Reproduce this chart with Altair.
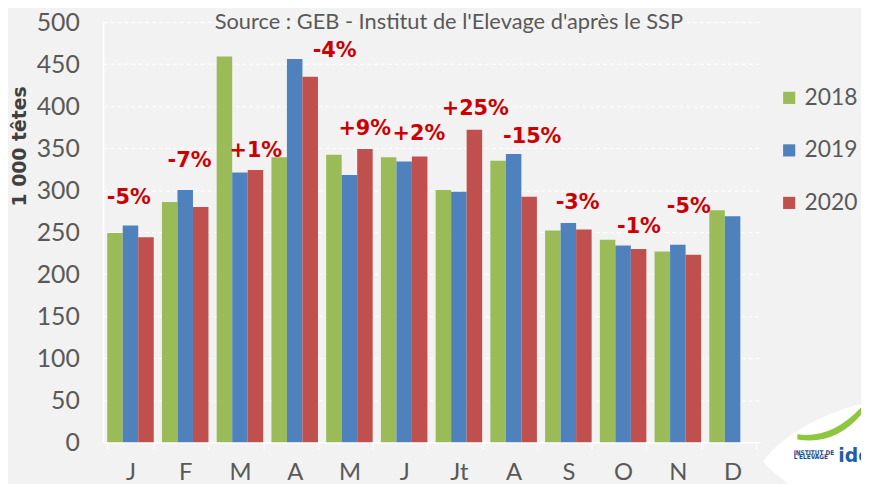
import altair as alt
import pandas as pd

months_short = ["J", "F", "M", "A", "M", "J", "Jt", "A", "S", "O", "N", "D"]
years = ["2018", "2019", "2020"]
v2018 = [249, 286, 459, 339, 342, 339, 300, 335, 252, 241, 227, 276]
v2019 = [258, 300, 321, 456, 318, 334, 298, 343, 261, 234, 235, 269]
v2020 = [244, 280, 324, 435, 349, 340, 372, 292, 253, 230, 223, None]

pct_labels = ["-5%", "-7%", "+1%", "-4%", "+9%", "+2%", "+25%", "-15%", "-3%", "-1%", "-5%"]
pct_y = [290, 335, 347, 465, 373, 367, 397, 363, 285, 256, 280]
pct_x = [0.47, 0.58, 0.79, 1.23, 0.78, 0.77, 0.80, 0.84, 0.67, 0.79, 0.70]

source_title = "Source : GEB - Institut de l'Elevage d'après le SSP"
logo_small = ["INSTITUT DE", "L'ELEVAGE"]
logo_big = "idel"

colors = ["#9bbb59", "#4f81bd", "#c0504d"]
gray = "#595959"

rows = []
for i in range(len(months_short)):
    for y, vals in zip(years, [v2018, v2019, v2020]):
        if vals[i] is not None:
            rows.append({"mi": i, "year": y, "value": vals[i]})
bars_df = pd.DataFrame(rows)

lab_df = pd.DataFrame({
    "pos": [i + f for i, f in enumerate(pct_x)],
    "y": pct_y,
    "label": pct_labels,
})

label_expr = "[" + ",".join("'%s'" % m for m in months_short) + "][datum.value]"

bars = alt.Chart(bars_df).mark_bar().encode(
    x=alt.X("mi:O", scale=alt.Scale(paddingInner=0.15, paddingOuter=0.075),
            axis=alt.Axis(title=None, labelExpr=label_expr, labelAngle=0,
                          labelFont="Lato", labelFontSize=24, labelColor=gray,
                          labelPadding=12, tickBand="extent", tickColor="white",
                          tickSize=7, domainColor="white", domainWidth=1.5)),
    xOffset=alt.XOffset("year:N", sort=years),
    y=alt.Y("value:Q", scale=alt.Scale(domain=[0, 500]),
            axis=alt.Axis(values=list(range(0, 501, 50)), title="1 000 têtes",
                          labelFont="Lato", labelFontSize=25, labelColor=gray,
                          labelPadding=24, ticks=False,
                          grid=True, gridColor="white", gridDash=[4, 3], gridWidth=1,
                          domainColor="white", domainWidth=1.5)),
    color=alt.Color("year:N", sort=years,
                    scale=alt.Scale(domain=years, range=colors),
                    legend=alt.Legend(title=None, orient="none", legendX=681, legendY=65,
                                      symbolType="square", symbolSize=150,
                                      symbolStrokeWidth=0, labelFont="Lato",
                                      labelFontSize=23, labelColor=gray,
                                      rowPadding=29, labelOffset=4, padding=0)),
)

texts = alt.Chart(lab_df).mark_text(
    font="DejaVu Sans", fontSize=21, fontWeight="bold", color="#cc0000",
    baseline="middle", align="center"
).encode(
    x=alt.X("pos:Q", scale=alt.Scale(domain=[0, 12]), axis=None),
    y=alt.Y("y:Q", scale=alt.Scale(domain=[0, 500]), axis=None),
    text="label:N",
)

title_mark = alt.Chart(pd.DataFrame({"t": [source_title]})).mark_text(
    font="Lato", fontSize=22, color=gray, baseline="alphabetic", align="center"
).encode(x=alt.value(349), y=alt.value(7), text="t:N")

logo_bg = alt.Chart(pd.DataFrame({"k": [1]})).mark_point(
    shape="M -1 0.05 C -0.6 -0.45 0.2 -0.62 1 -0.6 L 1 0.8 C 0.2 0.75 -0.6 0.5 -1 0.05 Z",
    filled=True, color="white", opacity=1, size=46000, strokeWidth=0
).encode(x=alt.value(773), y=alt.value(438))

logo_swoosh = alt.Chart(pd.DataFrame({"k": [1]})).mark_point(
    shape="M -0.95 0.4 Q 0.1 0.55 1 -0.5 L 1 -0.3 Q 0.2 0.75 -0.95 0.55 Z",
    filled=True, color="#8dc63f", opacity=1, size=4900, strokeWidth=0
).encode(x=alt.value(734), y=alt.value(402))

logo_small_mark = alt.Chart(pd.DataFrame({"t": logo_small, "r": [0, 1]})).mark_text(
    font="Liberation Sans Narrow, DejaVu Sans Condensed, Liberation Sans", fontSize=6.5,
    fontWeight="bold", color="#1f4e8c", baseline="middle", align="left"
).encode(x=alt.value(697),
         y=alt.Y("r:O", scale=alt.Scale(domain=[0, 1], range=[432.5, 441.5]), axis=None),
         text="t:N")

logo_big_mark = alt.Chart(pd.DataFrame({"t": [logo_big]})).mark_text(
    font="DejaVu Sans", fontSize=19, fontWeight="bold", color="#1f5fa8",
    baseline="middle", align="left"
).encode(x=alt.value(742), y=alt.value(438), text="t:N")

chart = alt.layer(bars, texts, title_mark, logo_bg, logo_swoosh, logo_small_mark,
                  logo_big_mark).resolve_scale(
    x="independent", y="independent"
).properties(
    width=663, height=424,
    autosize="none",
    padding={"left": 96, "top": 12, "right": 102, "bottom": 40},
    background="#f2f2f2",
).configure_view(stroke=None).configure_axisY(
    titleFont="DejaVu Sans", titleFontSize=19, titleFontWeight="bold",
    titleColor="#404040", titleX=-84, titleY=125, titleAngle=270,
    titleBaseline="middle", titleAlign="center",
)

chart.save("out.html", embed_options={"renderer": "svg", "actions": False})
